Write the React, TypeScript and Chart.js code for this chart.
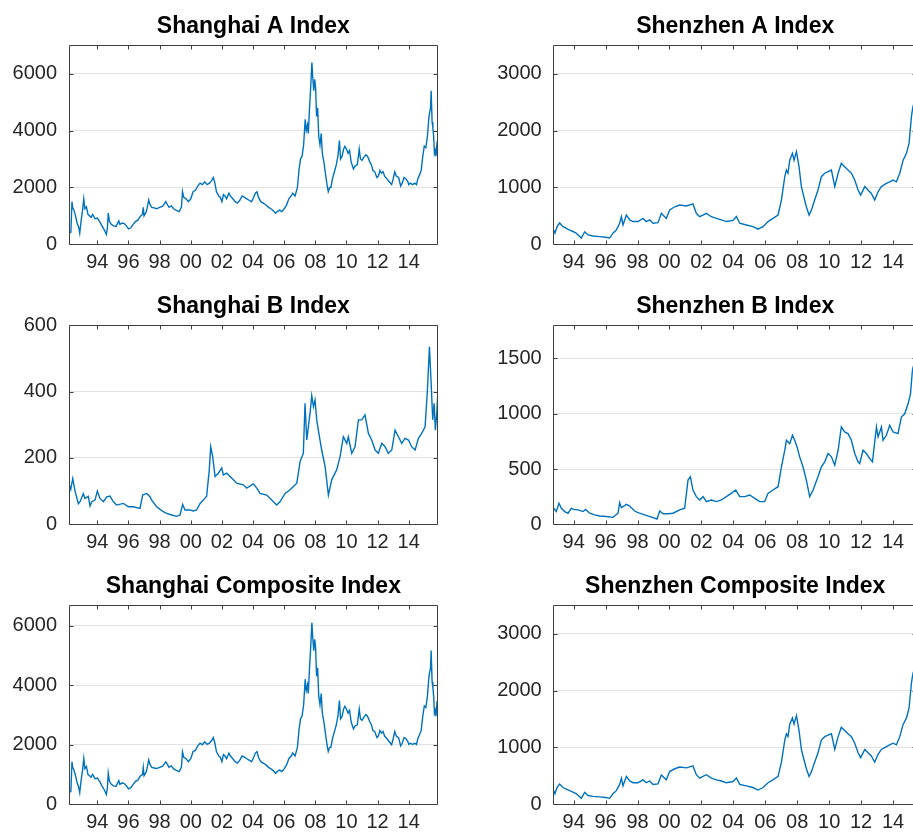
import React, { useEffect, useRef } from 'react';
import { Chart, registerables } from 'chart.js';

Chart.register(...registerables);

// ---------------- data ----------------
const xTickYears = [1994, 1996, 1998, 2000, 2002, 2004, 2006, 2008, 2010, 2012, 2014];

const shDates = [
  1992.18, 1992.30, 1992.37, 1992.42, 1992.50, 1992.60, 1992.70, 1992.80, 1992.87, 1992.95,
  1993.05, 1993.13, 1993.20, 1993.30, 1993.40, 1993.50, 1993.60, 1993.70, 1993.85, 1994.00,
  1994.15, 1994.30, 1994.45, 1994.58, 1994.65, 1994.70, 1994.78, 1994.90, 1995.05, 1995.20,
  1995.38, 1995.45, 1995.60, 1995.75, 1995.90, 1996.00, 1996.15, 1996.30, 1996.45, 1996.60,
  1996.75, 1996.90, 1996.95, 1997.00, 1997.15, 1997.30, 1997.38, 1997.50, 1997.65, 1997.80,
  1998.00, 1998.20, 1998.40, 1998.50, 1998.60, 1998.75, 1998.90, 1999.05, 1999.25, 1999.40,
  1999.47, 1999.55, 1999.70, 1999.85, 2000.00, 2000.15, 2000.30, 2000.45, 2000.60, 2000.75,
  2000.90, 2001.05, 2001.20, 2001.35, 2001.45, 2001.55, 2001.65, 2001.80, 2001.90, 2002.00,
  2002.10, 2002.20, 2002.30, 2002.45, 2002.55, 2002.70, 2002.85, 2003.00, 2003.15, 2003.30,
  2003.45, 2003.60, 2003.75, 2003.90, 2004.00, 2004.15, 2004.25, 2004.35, 2004.50, 2004.65,
  2004.80, 2004.90, 2005.00, 2005.15, 2005.30, 2005.45, 2005.55, 2005.70, 2005.85, 2006.00,
  2006.15, 2006.30, 2006.45, 2006.55, 2006.70, 2006.85, 2006.95, 2007.05, 2007.15, 2007.25,
  2007.35, 2007.42, 2007.50, 2007.55, 2007.62, 2007.70, 2007.78, 2007.83, 2007.90, 2007.96,
  2008.02, 2008.08, 2008.15, 2008.22, 2008.30, 2008.38, 2008.45, 2008.55, 2008.65, 2008.75,
  2008.83, 2008.92, 2009.00, 2009.10, 2009.20, 2009.35, 2009.45, 2009.55, 2009.62, 2009.72,
  2009.82, 2009.90, 2010.00, 2010.10, 2010.20, 2010.30, 2010.45, 2010.55, 2010.70, 2010.82,
  2010.90, 2011.00, 2011.10, 2011.25, 2011.35, 2011.50, 2011.60, 2011.70, 2011.82, 2011.95,
  2012.05, 2012.15, 2012.25, 2012.35, 2012.45, 2012.60, 2012.75, 2012.90, 2013.00, 2013.10,
  2013.20, 2013.35, 2013.48, 2013.58, 2013.70, 2013.82, 2013.95, 2014.00, 2014.10, 2014.25,
  2014.40, 2014.50, 2014.58, 2014.70, 2014.80, 2014.90, 2015.00, 2015.10, 2015.20, 2015.30,
  2015.40, 2015.44, 2015.50, 2015.55, 2015.60, 2015.65, 2015.70, 2015.75, 2015.82, 2015.86,
];

const shanghaiA = [
  390, 420, 1500, 1280, 1200, 1000, 750, 600, 390, 800,
  1200, 1600, 1250, 1320, 1050, 1000, 950, 1050, 900, 920,
  800, 650, 500, 340, 600, 1100, 800, 700, 650, 620,
  820, 700, 750, 720, 620, 540, 580, 700, 800, 850,
  980, 1050, 1300, 1000, 1150, 1560, 1400, 1300, 1280, 1250,
  1300, 1340, 1500, 1400, 1300, 1350, 1250, 1200, 1150, 1300,
  1850, 1650, 1600, 1500, 1600, 1850, 1900, 2050, 2150, 2100,
  2200, 2100, 2150, 2250, 2350, 2150, 1850, 1700, 1650, 1500,
  1750, 1700, 1600, 1800, 1700, 1600, 1500, 1450, 1550, 1700,
  1650, 1600, 1550, 1500, 1600, 1800, 1850, 1650, 1500, 1450,
  1400, 1350, 1300, 1250, 1180, 1090, 1150, 1200, 1150, 1250,
  1380, 1600, 1700, 1800, 1700, 2000, 2600, 3000, 3100, 3500,
  4400, 4000, 4200, 3900, 4700, 5500, 6390, 5900, 5400, 5800,
  5500, 4500, 4800, 3800, 3500, 3900, 3200, 2900, 2500, 2100,
  1850, 2000, 2000, 2300, 2500, 2800, 3100, 3650, 3000, 3100,
  3350, 3450, 3350, 3200, 3300, 2900, 2650, 2750, 2800, 3350,
  3000, 2950, 3050, 3150, 3100, 2900, 2800, 2600, 2550, 2350,
  2400, 2600, 2500, 2550, 2400, 2300, 2200, 2100, 2300, 2550,
  2400, 2350, 2050, 2150, 2350, 2300, 2200, 2100, 2150, 2100,
  2150, 2100, 2300, 2450, 2600, 3100, 3450, 3400, 3800, 4500,
  4800, 5400, 4300, 4100, 3800, 3200, 3300, 3100, 3600, 3850,
];

const shanghaiComposite = [
  400, 430, 1430, 1230, 1150, 960, 720, 580, 390, 770,
  1150, 1540, 1200, 1270, 1000, 960, 910, 1000, 860, 880,
  770, 620, 480, 330, 580, 1050, 770, 670, 620, 600,
  790, 670, 720, 690, 600, 520, 560, 670, 770, 810,
  940, 1000, 1240, 960, 1100, 1490, 1340, 1240, 1220, 1200,
  1240, 1280, 1430, 1340, 1240, 1290, 1190, 1150, 1100, 1240,
  1760, 1580, 1530, 1430, 1530, 1770, 1810, 1960, 2050, 2000,
  2100, 2010, 2050, 2150, 2240, 2050, 1770, 1620, 1580, 1430,
  1670, 1620, 1530, 1720, 1620, 1530, 1430, 1380, 1480, 1620,
  1580, 1530, 1480, 1430, 1530, 1720, 1770, 1580, 1430, 1380,
  1340, 1290, 1240, 1190, 1130, 1040, 1100, 1150, 1100, 1190,
  1320, 1530, 1620, 1720, 1620, 1910, 2480, 2870, 2960, 3340,
  4200, 3820, 4010, 3720, 4490, 5250, 6090, 5630, 5160, 5540,
  5250, 4300, 4580, 3630, 3340, 3720, 3060, 2770, 2390, 2000,
  1770, 1910, 1910, 2200, 2390, 2670, 2960, 3480, 2870, 2960,
  3200, 3290, 3200, 3060, 3150, 2770, 2530, 2630, 2670, 3200,
  2870, 2820, 2910, 3010, 2960, 2770, 2670, 2480, 2440, 2240,
  2290, 2480, 2390, 2440, 2290, 2200, 2100, 2000, 2200, 2440,
  2290, 2240, 1960, 2050, 2240, 2200, 2100, 2010, 2050, 2010,
  2050, 2010, 2200, 2340, 2480, 2960, 3300, 3250, 3630, 4300,
  4580, 5160, 4110, 3920, 3630, 3060, 3150, 2960, 3440, 3680,
];

const shbDates = [
  1992.18, 1992.29, 1992.42, 1992.57, 1992.78, 1992.89, 1993.10, 1993.21, 1993.42, 1993.53,
  1993.64, 1993.85, 1994.00, 1994.17, 1994.39, 1994.60, 1994.81, 1995.03, 1995.24, 1995.67,
  1995.99, 1996.31, 1996.74, 1996.91, 1997.17, 1997.38, 1997.49, 1997.81, 1998.03, 1998.24,
  1998.45, 1998.78, 1999.10, 1999.31, 1999.48, 1999.63, 1999.95, 2000.17, 2000.38, 2000.60,
  2000.81, 2001.02, 2001.19, 2001.28, 2001.41, 2001.56, 2001.77, 2001.99, 2002.09, 2002.31,
  2002.52, 2002.74, 2002.95, 2003.38, 2003.59, 2004.02, 2004.24, 2004.45, 2004.88, 2005.20,
  2005.52, 2005.73, 2006.06, 2006.38, 2006.81, 2007.02, 2007.23, 2007.34, 2007.45, 2007.66,
  2007.77, 2007.88, 2007.98, 2008.09, 2008.30, 2008.41, 2008.63, 2008.84, 2009.05, 2009.37,
  2009.59, 2009.80, 2010.02, 2010.12, 2010.34, 2010.55, 2010.77, 2010.98, 2011.19, 2011.41,
  2011.62, 2011.84, 2012.05, 2012.27, 2012.48, 2012.69, 2012.91, 2013.12, 2013.34, 2013.55,
  2013.76, 2013.98, 2014.19, 2014.41, 2014.62, 2014.83, 2015.05, 2015.20, 2015.33, 2015.43,
  2015.54, 2015.63, 2015.71, 2015.80, 2015.86,
];

const shanghaiB = [
  120, 105, 138, 100, 62, 68, 92, 78, 84, 55,
  68, 73, 100, 78, 68, 83, 85, 68, 58, 63,
  53, 53, 48, 88, 93, 83, 73, 53, 45, 38,
  33, 28, 24, 28, 60, 43, 43, 40, 43, 63,
  73, 85, 164, 234, 204, 144, 154, 170, 149, 154,
  144, 134, 124, 119, 109, 122, 109, 93, 88, 73,
  58, 68, 93, 104, 124, 189, 214, 365, 254, 335,
  388, 355, 375, 315, 254, 224, 174, 88, 134, 164,
  204, 264, 244, 264, 214, 234, 315, 315, 330, 274,
  254, 224, 214, 244, 234, 214, 224, 284, 264, 244,
  259, 254, 234, 224, 259, 274, 294, 405, 535, 435,
  315, 365, 284, 335, 390,
];

const szDates = [
  1992.75, 1992.83, 1992.96, 1993.12, 1993.33, 1993.54, 1993.75, 1993.96, 1994.17, 1994.48,
  1994.69, 1994.90, 1995.21, 1995.63, 1996.00, 1996.25, 1996.46, 1996.67, 1996.88, 1996.99,
  1997.09, 1997.30, 1997.51, 1997.72, 1998.03, 1998.34, 1998.55, 1998.76, 1998.97, 1999.28,
  1999.49, 1999.80, 2000.01, 2000.33, 2000.64, 2001.06, 2001.47, 2001.68, 2001.89, 2002.10,
  2002.31, 2002.62, 2002.94, 2003.25, 2003.56, 2003.98, 2004.19, 2004.40, 2004.81, 2005.23,
  2005.54, 2005.86, 2006.17, 2006.48, 2006.80, 2007.01, 2007.22, 2007.32, 2007.42, 2007.53,
  2007.70, 2007.80, 2007.95, 2008.11, 2008.26, 2008.36, 2008.57, 2008.74, 2008.89, 2009.09,
  2009.30, 2009.51, 2009.72, 2009.93, 2010.14, 2010.35, 2010.56, 2010.76, 2010.97, 2011.18,
  2011.39, 2011.60, 2011.81, 2011.97, 2012.23, 2012.43, 2012.64, 2012.85, 2013.06, 2013.27,
  2013.58, 2013.79, 2014.00, 2014.21, 2014.42, 2014.63, 2014.84, 2015.00, 2015.15, 2015.21,
  2015.27,
];

const shenzhenA = [
  250, 195, 310, 375, 310, 280, 250, 225, 195, 110,
  220, 165, 145, 135, 125, 110, 195, 250, 370, 485,
  340, 515, 430, 400, 400, 455, 400, 430, 370, 380,
  545, 455, 605, 660, 690, 675, 710, 545, 485, 515,
  545, 485, 455, 430, 400, 420, 490, 370, 340, 310,
  265, 310, 400, 455, 515, 780, 1190, 1305, 1250, 1480,
  1600, 1480, 1630, 1365, 1015, 895, 660, 515, 605, 780,
  955, 1190, 1250, 1280, 1305, 1015, 1250, 1425, 1365, 1305,
  1250, 1130, 955, 865, 1015, 955, 895, 780, 925, 1015,
  1070, 1100, 1130, 1100, 1250, 1480, 1600, 1775, 2245, 2360,
  2450,
];

const shenzhenComposite = [
  240, 185, 295, 355, 295, 265, 240, 215, 185, 105,
  210, 155, 140, 130, 120, 105, 185, 240, 350, 460,
  325, 490, 410, 380, 380, 430, 380, 410, 350, 360,
  515, 430, 575, 625, 655, 640, 675, 520, 460, 490,
  520, 460, 430, 410, 380, 400, 465, 350, 325, 295,
  250, 295, 380, 430, 490, 740, 1130, 1240, 1190, 1410,
  1520, 1410, 1560, 1300, 965, 850, 625, 490, 575, 740,
  905, 1130, 1190, 1215, 1240, 965, 1190, 1355, 1300, 1240,
  1190, 1075, 905, 820, 965, 905, 850, 740, 880, 965,
  1015, 1045, 1075, 1045, 1190, 1405, 1520, 1690, 2130, 2240,
  2330,
];

const szbDates = [
  1992.75, 1992.91, 1993.08, 1993.23, 1993.44, 1993.65, 1993.85, 1994.00, 1994.27, 1994.58,
  1994.75, 1995.00, 1995.32, 1995.63, 1996.05, 1996.46, 1996.78, 1996.88, 1996.99, 1997.30,
  1997.51, 1997.82, 1998.03, 1998.45, 1998.97, 1999.22, 1999.39, 1999.60, 1999.91, 2000.22,
  2000.64, 2000.95, 2001.16, 2001.31, 2001.47, 2001.68, 2001.89, 2002.10, 2002.31, 2002.62,
  2002.94, 2003.25, 2003.56, 2003.87, 2004.15, 2004.40, 2004.71, 2005.02, 2005.34, 2005.65,
  2005.96, 2006.17, 2006.48, 2006.80, 2007.01, 2007.22, 2007.32, 2007.53, 2007.70, 2007.84,
  2007.99, 2008.15, 2008.36, 2008.57, 2008.78, 2008.99, 2009.30, 2009.51, 2009.72, 2009.93,
  2010.14, 2010.35, 2010.56, 2010.76, 2010.97, 2011.18, 2011.39, 2011.60, 2011.81, 2011.91,
  2012.12, 2012.33, 2012.54, 2012.71, 2012.96, 2013.06, 2013.27, 2013.37, 2013.58, 2013.79,
  2014.00, 2014.31, 2014.52, 2014.73, 2014.94, 2015.09, 2015.21, 2015.27,
];

const shenzhenB = [
  145, 115, 190, 145, 115, 100, 145, 135, 130, 115,
  135, 100, 85, 75, 70, 63, 100, 195, 150, 180,
  165, 120, 105, 85, 60, 48, 120, 95, 95, 100,
  130, 145, 400, 430, 310, 250, 220, 250, 205, 220,
  205, 220, 250, 280, 310, 250, 250, 265, 235, 205,
  205, 280, 310, 340, 520, 670, 760, 730, 805, 760,
  700, 610, 520, 400, 250, 310, 430, 520, 565, 640,
  610, 535, 670, 880, 835, 820, 760, 640, 565, 550,
  670, 640, 595, 565, 880, 790, 880, 760, 805, 895,
  835, 820, 970, 1000, 1090, 1180, 1390, 1430,
];

// ---------------- styling ----------------
const LINE_COLOR = '#0072BD';
const AXIS_COLOR = '#404040';
const TICK_TEXT = '#262626';
const GRID_COLOR = '#e2e2e2';
const FONT = '"Liberation Sans", Arial, Helvetica, sans-serif';

type Panel = {
  title: string;
  dates: number[];
  values: number[];
  xMin: number;
  xMax: number;
  yMax: number;
  yTicks: number[];
  left: number;
  top: number;
  width: number;
  yAxisW: number;
  padRight: number;
};

const LEFT_COL = { left: 0, width: 460, yAxisW: 69, padRight: 22.3, xMin: 1992.18, xMax: 2015.86 };
const RIGHT_COL = { left: 460, width: 457, yAxisW: 93.7, padRight: 0.3, xMin: 1992.75, xMax: 2015.48 };

const panels: Panel[] = [
  { title: 'Shanghai A Index', dates: shDates, values: shanghaiA, yMax: 7000, yTicks: [0, 2000, 4000, 6000], top: 0, ...LEFT_COL },
  { title: 'Shenzhen A Index', dates: szDates, values: shenzhenA, yMax: 3500, yTicks: [0, 1000, 2000, 3000], top: 0, ...RIGHT_COL },
  { title: 'Shanghai B Index', dates: shbDates, values: shanghaiB, yMax: 600, yTicks: [0, 200, 400, 600], top: 280, ...LEFT_COL },
  { title: 'Shenzhen B Index', dates: szbDates, values: shenzhenB, yMax: 1800, yTicks: [0, 500, 1000, 1500], top: 280, ...RIGHT_COL },
  { title: 'Shanghai Composite Index', dates: shDates, values: shanghaiComposite, yMax: 6680, yTicks: [0, 2000, 4000, 6000], top: 560, ...LEFT_COL },
  { title: 'Shenzhen Composite Index', dates: szDates, values: shenzhenComposite, yMax: 3500, yTicks: [0, 1000, 2000, 3000], top: 560, ...RIGHT_COL },
];

const CANVAS_H = 280;
const PLOT_TOP = 45.3;
const PLOT_BOTTOM = 244.3;
const TITLE_PAD_TOP = 12.5;

const boxPlugin = {
  id: 'matlabBox',
  afterDatasetsDraw(chart: any) {
    const { ctx, chartArea, scales } = chart;
    const l = Math.floor(chartArea.left) + 0.5;
    const r = Math.floor(chartArea.right) + 0.5;
    const t = Math.floor(chartArea.top) + 0.5;
    const b = Math.floor(chartArea.bottom) + 0.5;
    ctx.save();
    ctx.strokeStyle = AXIS_COLOR;
    ctx.lineWidth = 1;
    ctx.beginPath();
    ctx.rect(l, t, r - l, b - t);
    const tl = 4;
    scales.x.ticks.forEach((tk: any) => {
      const px = Math.round(scales.x.getPixelForValue(tk.value)) + 0.5;
      ctx.moveTo(px, b);
      ctx.lineTo(px, b - tl);
      ctx.moveTo(px, t);
      ctx.lineTo(px, t + tl);
    });
    scales.y.ticks.forEach((tk: any) => {
      const py = Math.round(scales.y.getPixelForValue(tk.value)) + 0.5;
      ctx.moveTo(l, py);
      ctx.lineTo(l + tl, py);
      ctx.moveTo(r, py);
      ctx.lineTo(r - tl, py);
    });
    ctx.stroke();
    ctx.restore();
  },
};

function PanelChart({ p }: { p: Panel }) {
  const ref = useRef<HTMLCanvasElement | null>(null);
  useEffect(() => {
    if (!ref.current) return;
    const chart = new Chart(ref.current, {
      type: 'line',
      data: {
        datasets: [
          {
            data: p.dates.map((d, i) => ({ x: d, y: p.values[i] })),
            borderColor: LINE_COLOR,
            borderWidth: 1.4,
            pointRadius: 0,
            tension: 0,
            fill: false,
          },
        ],
      },
      options: {
        responsive: false,
        animation: false,
        devicePixelRatio: 1,
        events: [],
        layout: { padding: { left: 0, right: p.padRight, top: 0, bottom: 0 } },
        plugins: {
          legend: { display: false },
          tooltip: { enabled: false },
          title: {
            display: true,
            text: p.title,
            fullSize: false,
            color: '#000000',
            font: { family: FONT, size: 23, weight: 'bold', lineHeight: 1.2 },
            padding: { top: TITLE_PAD_TOP, bottom: PLOT_TOP - TITLE_PAD_TOP - 23 * 1.2 },
          },
        },
        scales: {
          x: {
            type: 'linear',
            min: p.xMin,
            max: p.xMax,
            grid: { display: false, drawTicks: false },
            border: { display: false },
            ticks: {
              color: TICK_TEXT,
              font: { family: FONT, size: 20 },
              padding: 6,
              autoSkip: false,
              maxRotation: 0,
              callback: (v: any) => String(Math.round(Number(v)) % 100).padStart(2, '0'),
            },
            afterBuildTicks: (s: any) => {
              s.ticks = xTickYears.map((v) => ({ value: v }));
            },
            afterFit: (s: any) => {
              s.height = CANVAS_H - PLOT_BOTTOM;
            },
          },
          y: {
            type: 'linear',
            min: 0,
            max: p.yMax,
            grid: { color: GRID_COLOR, drawTicks: false, lineWidth: 1 },
            border: { display: false },
            ticks: {
              color: TICK_TEXT,
              font: { family: FONT, size: 20 },
              padding: 12,
              callback: (v: any) => String(v),
            },
            afterBuildTicks: (s: any) => {
              s.ticks = p.yTicks.map((v) => ({ value: v }));
            },
            afterFit: (s: any) => {
              s.width = p.yAxisW;
            },
          },
        },
      } as any,
      plugins: [boxPlugin],
    });
    return () => chart.destroy();
  }, [p]);
  return (
    <canvas
      ref={ref}
      width={p.width}
      height={CANVAS_H}
      style={{ position: 'absolute', left: p.left, top: p.top, width: p.width, height: CANVAS_H }}
    />
  );
}

export default function App() {
  return (
    <div
      style={{
        position: 'absolute',
        left: 0,
        top: 0,
        width: 913,
        height: 832,
        overflow: 'hidden',
        background: '#ffffff',
      }}
    >
      {panels.map((p) => (
        <PanelChart key={p.title} p={p} />
      ))}
    </div>
  );
}
